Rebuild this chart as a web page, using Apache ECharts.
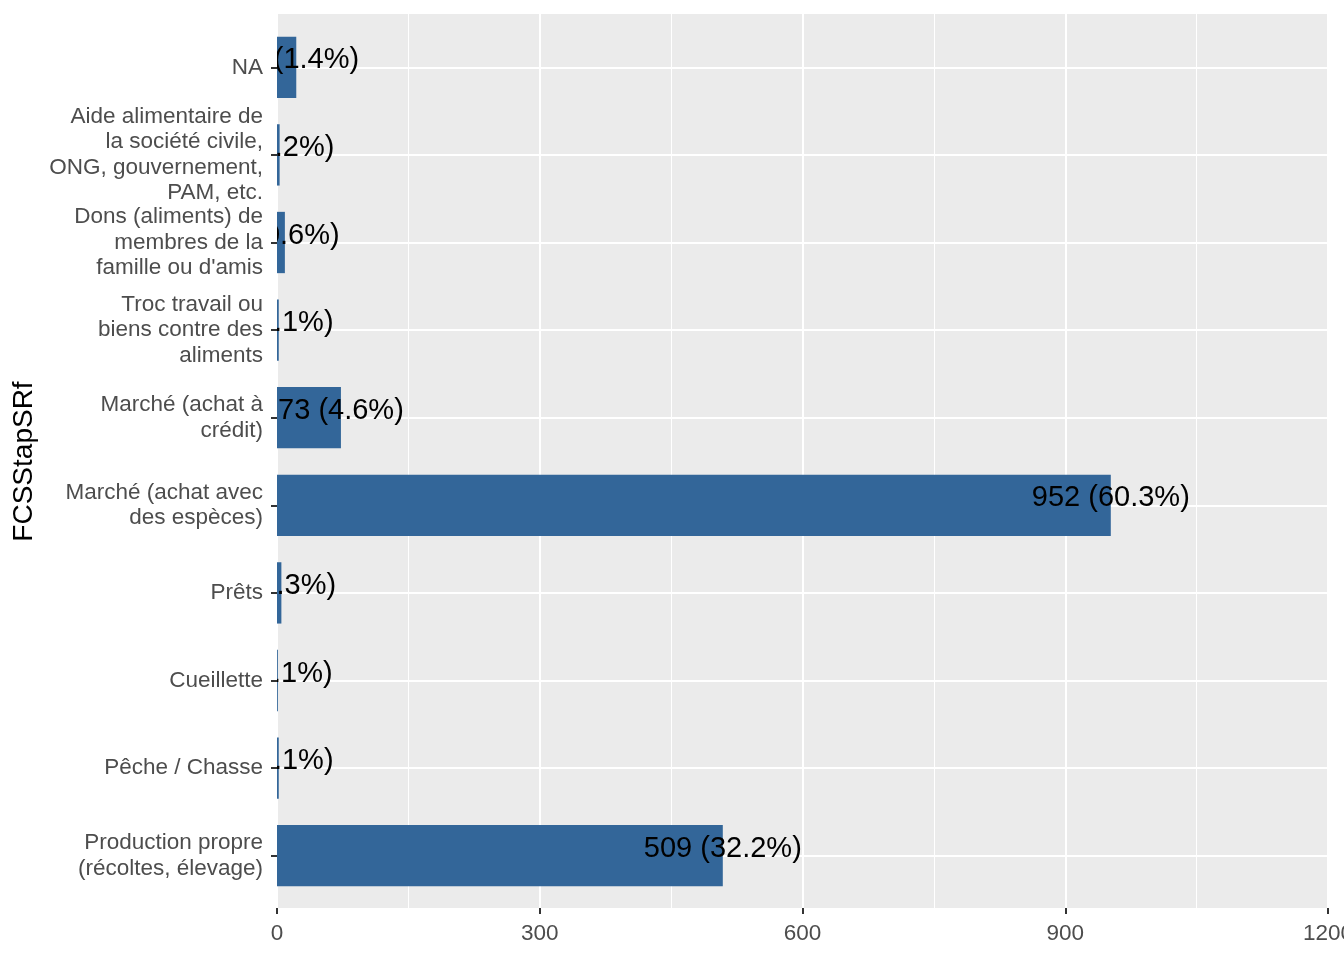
<!DOCTYPE html>
<html><head><meta charset="utf-8">
<script src="https://cdn.jsdelivr.net/npm/echarts@6/dist/echarts.min.js"></script>
<style>html,body{margin:0;padding:0;background:#fff}#c{width:1344px;height:960px}</style>
</head><body><div id="c"></div>
<script>
const categories = [
  'NA',
  'Aide alimentaire de\nla société civile,\nONG, gouvernement,\nPAM, etc.',
  'Dons (aliments) de\nmembres de la\nfamille ou d\'amis',
  'Troc travail ou\nbiens contre des\naliments',
  'Marché (achat à\ncrédit)',
  'Marché (achat avec\ndes espèces)',
  'Prêts',
  'Cueillette',
  'Pêche / Chasse',
  'Production propre\n(récoltes, élevage)'
];
const counts = [22, 3, 9, 2, 73, 952, 5, 1, 2, 509];
const percents = [1.4, 0.2, 0.6, 0.1, 4.6, 60.3, 0.3, 0.1, 0.1, 32.2];
const xTickValues = [0, 300, 600, 900, 1200];
const axisTitle = 'FCSStapSRf';

const FONT = '"Liberation Sans", Arial, sans-serif';
const chart = echarts.init(document.getElementById('c'), null, {renderer: 'canvas'});
const xMin = xTickValues[0], xMax = xTickValues[xTickValues.length - 1], xInt = xTickValues[1] - xTickValues[0];
const tickStyle = {color: '#333333', width: 2};

chart.setOption({
  animation: false,
  grid: [
    {left: 277, right: 16, top: 14, bottom: 52, show: true, backgroundColor: '#EBEBEB', borderWidth: 0,
     containLabel: false, outerBoundsMode: 'none'},
    {left: 277, right: 16, top: 23.5, bottom: 60.5, containLabel: false, outerBoundsMode: 'none'}
  ],
  xAxis: [
    {gridIndex: 0, type: 'value', min: xMin, max: xMax, interval: xInt,
     axisLine: {show: false},
     axisTick: {show: true, length: 6, lineStyle: tickStyle},
     axisLabel: {color: '#4D4D4D', fontSize: 22.5, fontFamily: FONT, margin: 14,
                 formatter: function (v) { return String(v); }},
     splitLine: {show: true, lineStyle: {color: '#FFFFFF', width: 2}},
     minorTick: {show: false, splitNumber: 2},
     minorSplitLine: {show: true, lineStyle: {color: '#FFFFFF', width: 1}}
    },
    {gridIndex: 1, type: 'value', min: xMin, max: xMax, show: false}
  ],
  yAxis: [
    {gridIndex: 0, type: 'value', min: 0, max: 1, show: false},
    {gridIndex: 1, type: 'category', data: categories, inverse: true,
     axisLine: {show: false},
     axisTick: {show: true, alignWithLabel: true, length: 6, lineStyle: tickStyle},
     axisLabel: {color: '#4D4D4D', fontSize: 22.5, lineHeight: 25.3, fontFamily: FONT, margin: 14, align: 'right',
                 padding: [8, 0, 0, 0]},
     splitLine: {show: true, alignWithLabel: true, lineStyle: {color: '#FFFFFF', width: 2}},
     name: axisTitle, nameLocation: 'middle', nameRotate: 90, nameGap: 227,
     nameTextStyle: {fontSize: 28, color: '#000000', fontFamily: FONT}
    }
  ],
  series: [
    {type: 'bar', xAxisIndex: 1, yAxisIndex: 1, data: counts, barWidth: '70%',
     itemStyle: {color: '#336699'}, z: 2, silent: true},
    {type: 'custom', xAxisIndex: 1, yAxisIndex: 1, clip: true, z: 3, silent: true,
     data: counts.map((v, i) => [v, i]),
     renderItem: function (params, api) {
       const v = api.value(0), i = api.value(1);
       const p = api.coord([v, i]);
       return {type: 'text', x: p[0], y: p[1] - 7,
         style: {text: v + ' (' + percents[i] + '%)', fontSize: 29, fontFamily: FONT,
                 fill: '#000000', align: 'center', verticalAlign: 'middle'}};
     }
    }
  ]
});
</script></body></html>
